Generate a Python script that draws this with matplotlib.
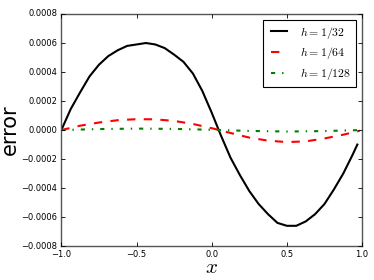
import numpy as np
import matplotlib
matplotlib.use("Agg")
from matplotlib import pyplot as plt

plt.style.use("classic")

# h = 1/32 : error at grid points
x32 = [-1.0, -0.9375, -0.875, -0.8125, -0.75, -0.6875, -0.625, -0.5625,
       -0.5, -0.4375, -0.375, -0.3125, -0.25, -0.1875, -0.125, -0.0625,
       0.0, 0.0625, 0.125, 0.1875, 0.25, 0.3125, 0.375, 0.4375,
       0.5, 0.5625, 0.625, 0.6875, 0.75, 0.8125, 0.875, 0.9375, 0.96875]
e32 = [0.0, 0.000145, 0.00026, 0.00037, 0.00045, 0.00051, 0.00055, 0.00058,
       0.00059, 0.0006, 0.00059, 0.000565, 0.00052, 0.00047, 0.00039, 0.00027,
       0.00012, -0.00004, -0.00019, -0.00031, -0.00042, -0.00051, -0.00058, -0.00064,
       -0.00066, -0.00066, -0.00063, -0.00058, -0.00051, -0.00041, -0.0003, -0.00017, -0.0001]

# h = 1/64
x64 = [-1.0, -0.875, -0.75, -0.625, -0.5, -0.375, -0.25, -0.125, 0.0,
       0.125, 0.25, 0.375, 0.5, 0.625, 0.75, 0.875, 0.984375]
e64 = [0.0, 0.00003, 0.000052, 0.000068, 0.000075, 0.000074, 0.000063, 0.000042, 0.000013,
       -0.00002, -0.000052, -0.000073, -0.000083, -0.000078, -0.000058, -0.000032, -0.000005]

# h = 1/128
x128 = [-1.0, -0.75, -0.5, -0.25, 0.0, 0.25, 0.5, 0.75, 0.9921875]
e128 = [0.0, 0.000007, 0.00001, 0.000008, 0.000002, -0.000006, -0.00001, -0.000007, 0.0]

labels = [r"$h=1/32$", r"$h=1/64$", r"$h=1/128$"]

fig = plt.figure(figsize=(3.74, 2.80), dpi=100, facecolor="white")
ax = fig.add_axes([0.164, 0.121, 0.804, 0.829])

ax.plot(x32, e32, "k-", lw=1.5, label=labels[0])
ax.plot(x64, e64, "r--", lw=1.5, label=labels[1])
ax.plot(x128, e128, "g-.", lw=1.5, label=labels[2])

ax.set_xlim(-1, 1)
ax.set_ylim(-0.0008, 0.0008)
ax.set_xticks([-1.0, -0.5, 0.0, 0.5, 1.0])
ax.set_yticks(np.arange(-0.0008, 0.00081, 0.0002))
ax.tick_params(labelsize=6, length=3, width=0.6, pad=3)
for s in ax.spines.values():
    s.set_color("#555555")
    s.set_linewidth(1.0)

# label positions set by hand (centre of the text)
ax.set_xlabel(r"$x$", fontsize=15, va="center")
ax.set_ylabel("error", fontsize=15, va="center")
ax.xaxis.set_label_coords(0.5, -0.088)
ax.yaxis.set_label_coords(-0.172, 0.5)

leg = ax.legend(loc="upper right", fontsize=8.5, handlelength=2.0,
                borderpad=0.4, labelspacing=0.4)
leg.get_frame().set_linewidth(0.8)

fig.savefig("out.png", dpi=100, facecolor="white")
